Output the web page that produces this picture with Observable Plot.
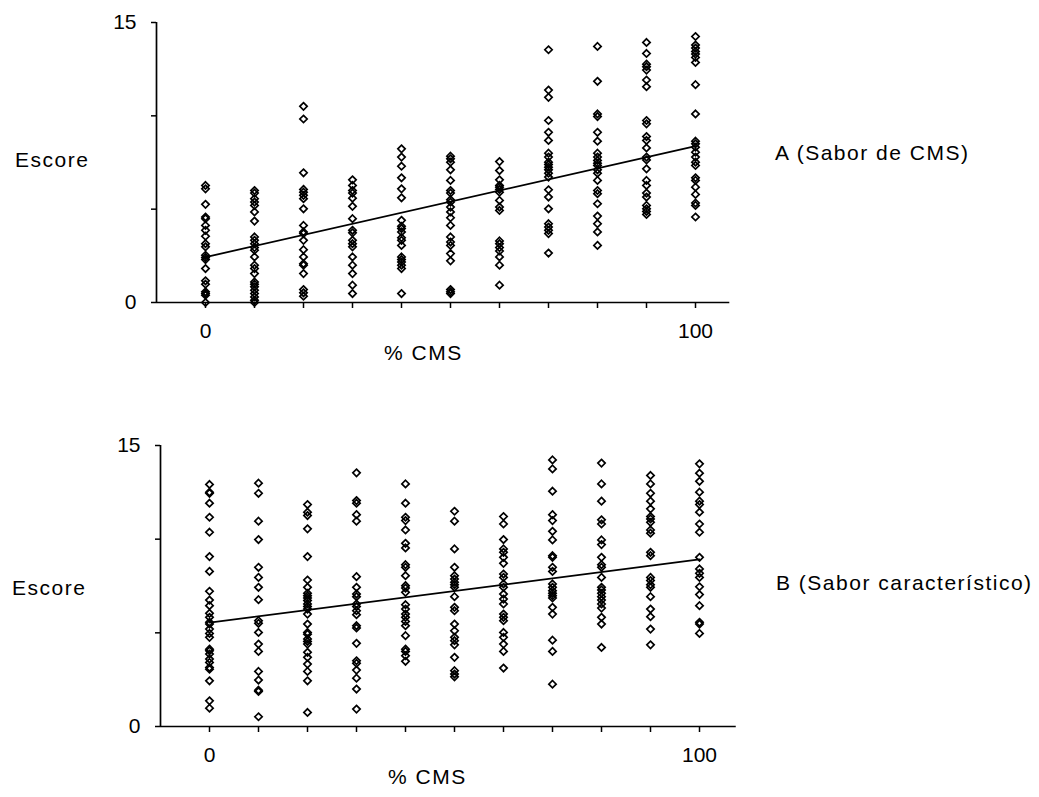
<!DOCTYPE html>
<html>
<head>
<meta charset="utf-8">
<script src="https://cdn.jsdelivr.net/npm/d3@7"></script>
<script src="https://cdn.jsdelivr.net/npm/@observablehq/plot@0.6"></script>
<style>
  html, body { margin: 0; padding: 0; background: #fff; }
  #wrap { position: relative; width: 1039px; height: 797px; overflow: hidden; }
  #wrap > svg, #wrap > .plot { position: absolute; left: 0; }
  text { font-family: "Liberation Sans", Arial, Helvetica, sans-serif; }
</style>
</head>
<body>
<div id="wrap"></div>
<script>
// ---- Data ----
const xLevels = [0, 10, 20, 30, 40, 50, 60, 70, 80, 90, 100];
const xTickLabels = [0, 100];
const yTicks = [0, 5, 10, 15];
const yTickLabels = [0, 15];

// Panel A: Sabor de CMS — scores at each % CMS level
const scoresA = [
  [6.27,6.09,5.26,4.58,4.49,4.13,3.87,3.55,3.15,2.98,2.53,2.41,2.30,1.82,1.16,0.98,0.57,0.48,0.39,0],
  [6.0,5.86,5.56,5.38,5.2,4.85,4.36,3.51,3.33,3.15,2.94,2.80,2.44,2.0,1.82,1.55,1.10,0.98,0.84,0.66,0.48,0.30,0.12,0],
  [10.51,9.83,6.95,6.06,5.91,5.74,5.56,5.02,4.13,3.78,3.69,3.33,2.83,2.44,2.08,2.0,1.55,0.69,0.52,0.34],
  [6.57,6.27,6.0,5.86,5.59,5.15,4.49,3.87,3.73,3.33,3.15,2.98,2.44,2.0,1.55,0.93,0.48],
  [8.23,7.79,7.30,6.68,6.09,5.61,4.40,4.08,3.96,3.78,3.47,3.33,3.06,2.44,2.30,2.17,2.0,1.82,0.48],
  [7.84,7.70,7.52,7.11,6.54,6.0,5.86,5.51,5.38,5.11,4.85,4.54,4.13,3.51,3.24,3.06,2.62,2.23,0.69,0.57,0.48],
  [7.55,7.07,6.57,6.27,6.18,6.06,5.91,5.47,5.11,4.93,3.30,3.15,2.94,2.76,2.44,2.0,0.93],
  [13.54,11.38,10.99,9.75,9.12,8.68,8.0,7.79,7.52,7.39,7.25,7.11,6.93,6.72,6.04,5.65,5.02,4.22,4.04,3.87,3.69,2.65],
  [13.72,11.85,10.10,9.96,9.12,8.64,8.0,7.79,7.61,7.46,7.34,7.11,6.93,6.54,6.0,5.83,5.29,4.63,4.22,3.78,3.06],
  [13.93,13.34,12.77,12.63,12.45,11.92,11.56,9.75,9.57,8.89,8.68,8.28,7.79,7.64,7.16,6.54,6.27,5.86,5.65,5.20,5.02,4.88,4.72],
  [14.25,13.79,13.63,13.45,13.31,13.13,12.86,11.67,10.10,8.64,8.50,8.32,8.05,7.79,7.52,7.34,6.68,6.54,6.18,5.79,5.33,5.20,4.58]
];

// Panel B: Sabor característico
const scoresB = [
  [12.92,12.51,12.45,11.92,11.17,10.37,9.07,8.28,7.22,6.75,6.45,6.04,5.83,5.56,5.47,5.20,4.97,4.76,4.13,4.04,3.87,3.60,3.42,3.15,3.06,2.44,1.37,0.98],
  [12.99,12.45,10.96,9.98,8.50,7.96,7.43,6.77,5.65,5.51,5.02,4.40,4.01,2.94,2.48,1.94,1.87,0.52],
  [11.85,11.44,11.26,10.55,9.07,7.82,7.43,7.11,6.98,6.86,6.72,6.54,6.40,6.27,6.00,5.47,5.02,4.93,4.67,4.54,4.40,3.96,3.69,3.33,2.94,2.44,0.75],
  [13.54,12.06,11.92,11.31,10.96,8.0,7.43,7.07,6.93,6.54,6.40,6.18,5.97,5.38,5.26,4.44,3.51,3.37,3.01,2.58,2.0,0.93],
  [12.95,11.92,11.17,10.99,10.49,9.78,9.53,8.64,8.50,8.05,7.52,7.39,7.16,6.50,6.27,6.0,5.83,5.61,5.38,4.85,4.13,4.01,3.78,3.48],
  [11.49,10.96,9.48,8.50,8.05,7.87,7.70,7.57,7.43,6.93,6.36,6.18,5.47,5.11,4.76,4.58,4.36,3.69,2.98,2.80,2.65],
  [11.21,10.81,9.98,9.48,9.30,9.03,8.71,8.14,7.96,7.61,7.43,7.07,6.80,6.54,6.0,5.83,5.65,5.02,4.76,4.40,4.01,3.12],
  [14.23,13.75,12.56,11.31,10.99,10.42,9.96,9.12,9.03,8.50,8.28,7.61,7.43,7.25,7.11,6.98,6.86,6.36,6.0,4.61,4.01,2.26],
  [14.06,12.95,12.03,11.03,10.81,9.96,9.71,9.03,8.64,8.50,7.96,7.43,7.29,7.11,6.93,6.75,6.54,6.32,5.83,5.47,4.22],
  [13.40,12.95,12.45,12.03,11.62,11.21,11.08,10.90,10.49,10.32,9.30,9.12,7.96,7.79,7.57,7.43,6.93,6.27,5.86,5.20,4.36],
  [14.02,13.52,13.09,12.51,12.03,11.85,11.44,10.81,10.37,9.03,8.41,8.18,7.96,7.46,7.04,6.45,5.56,5.47,4.97]
];

// Fitted regression lines (value at 0 % and 100 % CMS)
const fitX = [0, 100];
const fitA = [2.43, 8.38];
const fitB = [5.55, 8.92];

// Texts
const yLabel = "Escore";
const xLabel = "% CMS";
const titleA = "A (Sabor de CMS)";
const titleB = "B (Sabor característico)";

// ---- Build ----
const toPoints = (scores) => scores.flatMap((col, i) => col.map(v => ({x: xLevels[i], y: v})));
const toLine = (fit) => fitX.map((x, i) => ({x, y: fit[i]}));

const FONT = '"Liberation Sans", Arial, Helvetica, sans-serif';

function panel(scores, fit, cfg) {
  return Plot.plot({
    width: 1039,
    height: cfg.height,
    marginTop: cfg.mt,
    marginBottom: cfg.mb,
    marginLeft: cfg.ml,
    marginRight: cfg.mr,
    style: {fontFamily: FONT, fontSize: "21px", color: "#000", background: "transparent", overflow: "visible"},
    x: {domain: cfg.xdom},
    y: {domain: [0, 15]},
    marks: [
      Plot.axisX(xLevels, {tickSize: 6, tickPadding: 15, strokeWidth: 1.5, label: null,
        tickFormat: d => xTickLabels.includes(d) ? String(d) : "", fontSize: 21}),
      Plot.axisY(yTicks, {tickSize: 5, tickPadding: 15, strokeWidth: 1.5, label: null,
        tickFormat: d => yTickLabels.includes(d) ? String(d) : "", fontSize: 21}),
      Plot.ruleY([0], {stroke: "#000", strokeWidth: 1.7}),
      Plot.ruleX([cfg.xdom[0]], {stroke: "#000", strokeWidth: 1.7}),
      Plot.line(toLine(fit), {x: "x", y: "y", stroke: "#000", strokeWidth: 1.8}),
      Plot.dot(toPoints(scores), {x: "x", y: "y", symbol: "diamond2", r: 3.3,
        stroke: "#000", strokeWidth: 1.7, fill: "none"})
    ]
  });
}

const wrap = document.getElementById("wrap");
const pA = panel(scoresA, fitA, {height: 400, mt: 22, mb: 98, ml: 156, mr: 1039 - 729.3, xdom: [-10, 107]});
pA.style.top = "0px";
wrap.appendChild(pA);
const pB = panel(scoresB, fitB, {height: 397, mt: 45, mb: 71, ml: 160, mr: 1039 - 735.75, xdom: [-10, 107.5]});
pB.style.top = "400px";
wrap.appendChild(pB);

// Labels overlay
const svg = d3.select(wrap).append("svg")
  .attr("width", 1039).attr("height", 797)
  .style("top", "0px")
  .style("pointer-events", "none");
const labels = [
  {t: yLabel, x: 15, y: 167},
  {t: titleA, x: 775, y: 160},
  {t: xLabel, x: 384, y: 360},
  {t: yLabel, x: 12, y: 595},
  {t: titleB, x: 776, y: 590},
  {t: xLabel, x: 388, y: 784}
];
svg.selectAll("text").data(labels).join("text")
  .attr("x", d => d.x).attr("y", d => d.y)
  .attr("font-size", 21)
  .attr("letter-spacing", "1.5px")
  .attr("fill", "#000")
  .style("font-family", FONT)
  .text(d => d.t);
</script>
</body>
</html>
